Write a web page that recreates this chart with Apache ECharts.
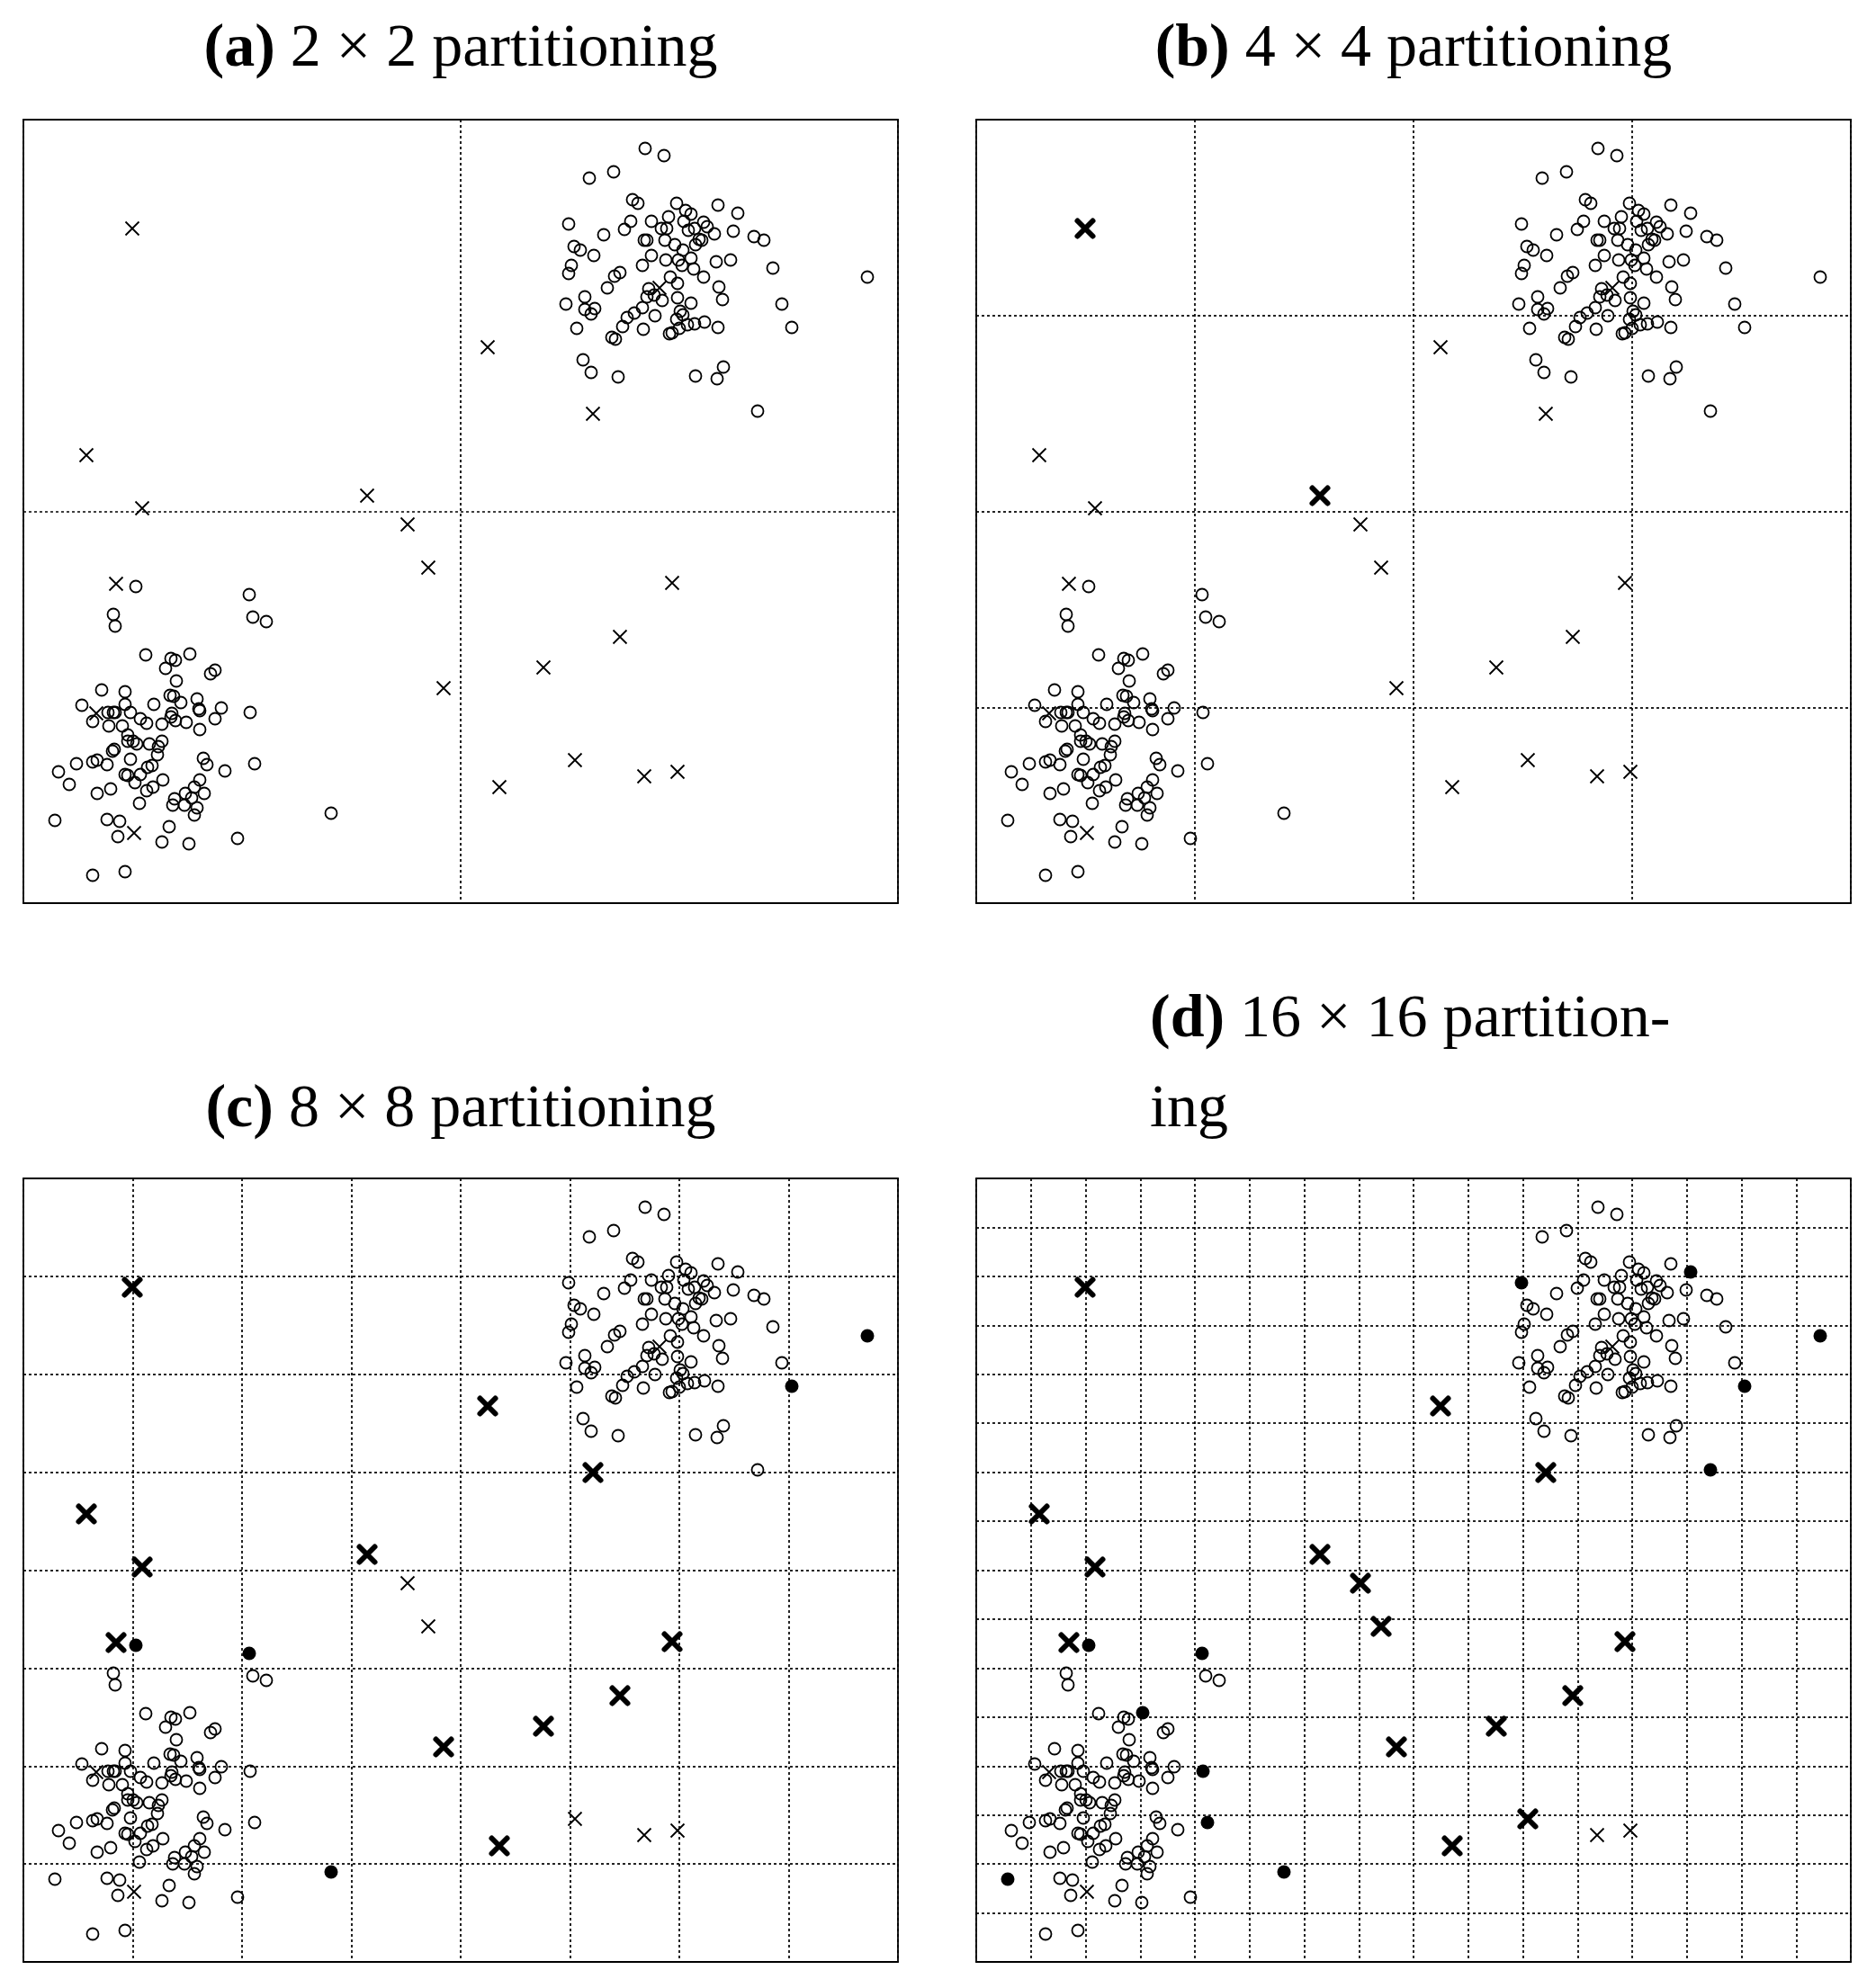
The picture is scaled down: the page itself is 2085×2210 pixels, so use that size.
<!DOCTYPE html>
<html>
<head>
<meta charset="utf-8">
<script src="https://cdn.jsdelivr.net/npm/echarts@6/dist/echarts.min.js"></script>
<style>
  html, body { margin: 0; padding: 0; background: #fff; }
  #main { width: 2085px; height: 2210px; }
</style>
</head>
<body>
<div id="main"></div>
<script>
// points of the lower-left cluster (circles)
var lowerCluster = [
  [125,352],[251,343],[255,318],[270,313],[100,321],[102,308],[136,276],[164,272],[169,270],[185,277],
  [158,261],[208,255],[213,259],[170,247],[87,237],[113,235],[163,231],[167,230],[175,223],[193,227],
  [195,216],[196,214],[65,220],[113,221],[145,221],[220,217],[252,212],[94,212],[100,212],[102,212],
  [119,212],[77,202],[130,205],[137,200],[154,199],[165,211],[164,207],[169,203],[181,201],[213,205],
  [196,193],[95,197],[110,197],[116,187],[116,180],[122,180],[126,177],[140,177],[154,180],[150,174],
  [149,165],[101,171],[99,169],[119,160],[200,161],[204,154],[257,155],[59,155],[77,157],[82,159],
  [93,154],[143,153],[138,151],[130,143],[113,143],[116,142],[124,134],[155,137],[39,146],[51,132],
  [224,147],[196,137],[190,129],[201,122],[180,122],[187,117],[168,116],[166,109],[179,109],[193,106],
  [190,98],[82,122],[97,127],[137,125],[144,129],[129,111],[35,92],[93,93],[107,91],[105,74],
  [162,85],[154,68],[184,66],[238,72],[77,31],[113,35],[342,100]
];
// points of the upper-right cluster (circles)
var upperCluster = [
  [691,839],[712,831],[629,806],[656,813],[677,782],[683,778],[726,778],[736,770],[742,766],[772,776],
  [794,767],[606,755],[675,758],[668,749],[645,743],[698,758],[717,763],[709,750],[715,750],[734,758],
  [739,748],[746,750],[756,757],[760,752],[768,744],[789,747],[812,741],[823,737],[690,737],[693,737],
  [713,737],[724,732],[733,726],[751,738],[754,737],[747,732],[612,730],[619,726],[634,720],[698,720],
  [688,709],[714,715],[728,715],[732,709],[742,717],[745,705],[770,713],[786,715],[833,706],[609,709],
  [606,700],[657,697],[663,701],[719,696],[727,689],[756,696],[773,685],[938,696],[649,684],[695,683],
  [693,674],[701,676],[710,670],[727,673],[742,667],[777,671],[603,666],[624,674],[624,660],[631,655],
  [635,661],[688,662],[679,656],[671,651],[666,641],[702,653],[730,658],[733,654],[726,649],[738,643],
  [746,644],[757,646],[772,640],[843,666],[854,640],[615,639],[689,638],[718,633],[721,634],[729,639],
  [654,629],[658,627],[622,604],[631,590],[661,585],[747,586],[778,596],[771,583],[816,547]
];
// outliers (x markers)
var crosses = [
  [121,750],[70,498],[132,439],[382,453],[516,618],[633,544],[707,684],[427,421],[450,373],[467,239],
  [103,355],[81,211],[123,78],[721,356],[663,296],[578,262],[613,159],[529,129],[690,141],[727,146]
];

var partitions = [2, 4, 8, 16];
var titles = [
  '{b|(a)} 2 × 2 partitioning',
  '{b|(b)} 4 × 4 partitioning',
  '{b|(c)} 8 × 8 partitioning',
  '{b|(d)} 16 × 16 partition-\ning'
];
// indices flagged in each panel (a, b, c, d)
var boldCrossIdx = [
  [],
  [0, 3],
  [0, 1, 2, 3, 4, 5, 9, 10, 13, 14, 15, 17],
  [0, 1, 2, 3, 4, 5, 7, 8, 9, 10, 13, 14, 15, 16, 17]
];
var filledLowerIdx = [[], [], [0, 1, 96], [0, 1, 9, 26, 56, 86, 96]];
var filledUpperIdx = [[], [], [57, 84], [10, 11, 57, 84, 98]];

var XMAX = 972, YMAX = 871;
var boxes = [
  { left: 26, top: 133 }, { left: 1085, top: 133 },
  { left: 26, top: 1310 }, { left: 1085, top: 1310 }
];
var crossPath = 'path://M0,0L10,10M10,0L0,10';

function pick(arr, idx, keep) {
  return arr.filter(function (p, i) { return (idx.indexOf(i) >= 0) === keep; });
}

var chart = echarts.init(document.getElementById('main'));

var grid = [], xAxis = [], yAxis = [], series = [];
boxes.forEach(function (b, k) {
  grid.push({
    left: b.left, top: b.top, width: XMAX, height: YMAX,
    show: true, borderColor: '#000', borderWidth: 1.8, backgroundColor: 'transparent'
  });
  var split = {
    show: true,
    lineStyle: { color: '#000', width: 1.7, type: [3, 3] }
  };
  xAxis.push({
    gridIndex: k, type: 'value', min: 0, max: XMAX, interval: XMAX / partitions[k],
    axisLine: { show: false }, axisTick: { show: false }, axisLabel: { show: false },
    splitLine: split
  });
  yAxis.push({
    gridIndex: k, type: 'value', min: 0, max: YMAX, interval: YMAX / partitions[k],
    axisLine: { show: false }, axisTick: { show: false }, axisLabel: { show: false },
    splitLine: split
  });

  var hollow = pick(lowerCluster, filledLowerIdx[k], false).concat(pick(upperCluster, filledUpperIdx[k], false));
  var filled = pick(lowerCluster, filledLowerIdx[k], true).concat(pick(upperCluster, filledUpperIdx[k], true));

  series.push({
    type: 'scatter', xAxisIndex: k, yAxisIndex: k, data: hollow,
    symbol: 'circle', symbolSize: 13,
    itemStyle: { color: 'rgba(0,0,0,0)', borderColor: '#000', borderWidth: 1.8, opacity: 1 }
  });
  series.push({
    type: 'scatter', xAxisIndex: k, yAxisIndex: k, data: filled,
    symbol: 'circle', symbolSize: 15,
    itemStyle: { color: '#000', opacity: 1 }
  });
  series.push({
    type: 'scatter', xAxisIndex: k, yAxisIndex: k, data: pick(crosses, boldCrossIdx[k], false),
    symbol: crossPath, symbolSize: 15,
    itemStyle: { color: 'rgba(0,0,0,0)', borderColor: '#000', borderWidth: 1.8, opacity: 1 }
  });
  series.push({
    type: 'scatter', xAxisIndex: k, yAxisIndex: k, data: pick(crosses, boldCrossIdx[k], true),
    symbol: crossPath, symbolSize: 17,
    itemStyle: { color: 'rgba(0,0,0,0)', borderColor: '#000', borderWidth: 6, borderCap: 'round', opacity: 1 }
  });
});

var titleStyle = {
  fontFamily: 'Liberation Serif', fontSize: 68, fontWeight: 'normal', color: '#000',
  lineHeight: 100,
  rich: { b: { fontFamily: 'Liberation Serif', fontSize: 68, fontWeight: 'bold', color: '#000', lineHeight: 100 } }
};
var title = [
  { text: titles[0], left: 512, top: 5, textAlign: 'center', padding: 0, textStyle: titleStyle },
  { text: titles[1], left: 1571, top: 5, textAlign: 'center', padding: 0, textStyle: titleStyle },
  { text: titles[2], left: 512, top: 1184, textAlign: 'center', padding: 0, textStyle: titleStyle },
  { text: titles[3], left: 1278, top: 1084, textAlign: 'left', padding: 0, textStyle: titleStyle }
];

chart.setOption({
  animation: false,
  backgroundColor: '#fff',
  title: title,
  grid: grid,
  xAxis: xAxis,
  yAxis: yAxis,
  series: series.map(function (s) { s.silent = true; return s; })
});
</script>
</body>
</html>
